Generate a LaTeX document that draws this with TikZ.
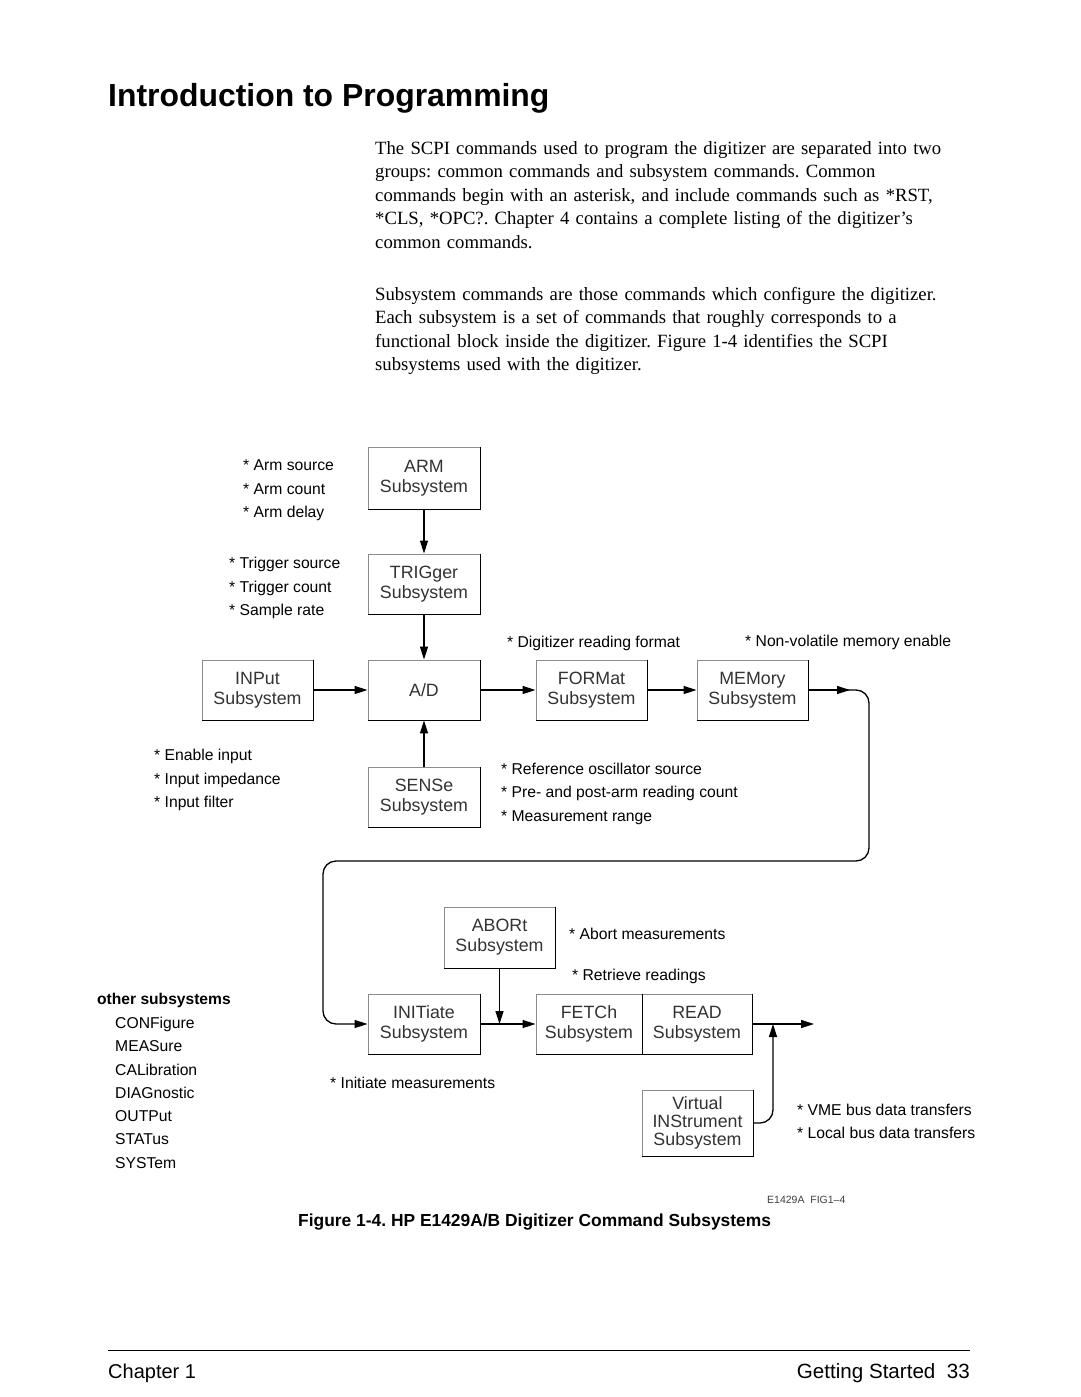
\documentclass[tikz,border=0pt]{standalone}
\usepackage{fontspec}
\setmainfont{Liberation Serif}
\setsansfont{Liberation Sans}
\newfontfamily\arial{Liberation Sans}
\usetikzlibrary{arrows.meta}
\begin{document}
\begin{tikzpicture}[x=1pt,y=-1pt,
  sbox/.style={draw=black!45, line width=0.9pt, minimum width=112pt, minimum height=61pt, inner sep=0pt, align=center, font=\arial\fontsize{17.8}{20}\selectfont, text=black!80},
  conn/.style={line width=1.3pt},
  arr/.style={conn, -{Triangle[length=13pt,width=8pt]}},
  lbl/.style={anchor=base west, inner sep=0pt, font=\arial\fontsize{15.7}{18}\selectfont},
  body/.style={anchor=base west, inner sep=0pt, text width=640pt, align=left, font=\frenchspacing\fontsize{18.7}{23.5}\selectfont},
]
\useasboundingbox[fill=white] (0,0) rectangle (1080,1397);

% title and body text
\node[anchor=base west, inner sep=0pt, font=\arial\bfseries\fontsize{31.9}{36}\selectfont] (title) at (108,106) {Introduction to Programming};
\node[body] (para1) at (375,154) {The SCPI commands used to program the digitizer are separated into two\\
groups: common commands and subsystem commands. Common\\
commands begin with an asterisk, and include commands such as *RST,\\
\relax *CLS, *OPC?. Chapter 4 contains a complete listing of the digitizer’s\\
common commands.};
\node[body] (para2) at (375,300) {Subsystem commands are those commands which configure the digitizer.\\
Each subsystem is a set of commands that roughly corresponds to a\\
functional block inside the digitizer. Figure 1-4 identifies the SCPI\\
subsystems used with the digitizer.};

% boxes
\node[sbox, minimum height=62pt] (arm) at (424,478) {ARM\\Subsystem};
\node[sbox, minimum height=60pt] (trig) at (424,584) {TRIGger\\Subsystem};
\node[sbox, minimum width=111pt, minimum height=60pt] (inp) at (257.5,690) {INPut\\Subsystem};
\node[sbox, minimum height=60pt] (ad) at (424,690) {A/D};
\node[sbox, minimum width=111pt, minimum height=60pt] (fmt) at (591.5,690) {FORMat\\Subsystem};
\node[sbox, minimum width=111pt, minimum height=60pt] (mem) at (752.5,690) {MEMory\\Subsystem};
\node[sbox, minimum height=60pt] (sense) at (424,797) {SENSe\\Subsystem};
\node[sbox, minimum width=111pt, minimum height=61pt] (abort) at (499.5,937.5) {ABORt\\Subsystem};
\node[sbox, minimum height=60pt] (init) at (424,1024) {INITiate\\Subsystem};
\node[sbox, minimum width=106pt, minimum height=60pt] (fetch) at (589,1024) {FETCh\\Subsystem};
\node[sbox, minimum width=110pt, minimum height=60pt] (read) at (697,1024) {READ\\Subsystem};
\node[sbox, minimum width=111pt, minimum height=66pt, font=\arial\fontsize{17.8}{18}\selectfont] (virt) at (697.5,1123) {Virtual\\INStrument\\Subsystem};

% shadow edges of boxes
\foreach \n in {arm,trig,inp,ad,fmt,mem,sense,abort,init,fetch,read,virt}
  \draw[line width=1.5pt] (\n.north east) -- (\n.south east) -- (\n.south west);

% connectors
\draw[arr] (arm.south) -- (trig.north);
\draw[arr] (trig.south) -- (ad.north);
\draw[arr] (sense.north) -- (ad.south);
\draw[arr] (inp.east) -- (ad.west);
\draw[arr] (ad.east) -- (fmt.west);
\draw[arr] (fmt.east) -- (mem.west);
\coordinate (m1) at (869,690);
\coordinate (m2) at (869,861);
\coordinate (m3) at (323,861);
\coordinate (m4) at (323,1024);
\coordinate (mtip) at (850,690);
\draw[arr, rounded corners=13pt] (mem.east) -- (m1) -- (m2) -- (m3) -- (m4) -- (init.west);
\draw[arr] (mem.east) -- (mtip);
\draw[arr] (init.east) -- (fetch.west);
\coordinate (j1) at (abort.south |- init.east);
\draw[arr] (abort.south) -- (j1);
\coordinate (outend) at (814,1024);
\draw[arr] (read.east) -- (outend);
\coordinate (j2) at (773,1024);
\draw[arr, rounded corners=13pt] (virt.east) -| (j2);

% labels
\node[lbl] (l1) at (243,470) {* Arm source};
\node[lbl] (l2) at (243,494) {* Arm count};
\node[lbl] (l3) at (243,517) {* Arm delay};
\node[lbl] (l4) at (229,568) {* Trigger source};
\node[lbl] (l5) at (229,592) {* Trigger count};
\node[lbl] (l6) at (229,615) {* Sample rate};
\node[lbl] (l7) at (507,647) {* Digitizer reading format};
\node[lbl] (l8) at (745,646) {* Non-volatile memory enable};
\node[lbl] (l9) at (154,760) {* Enable input};
\node[lbl] (l10) at (154,784) {* Input impedance};
\node[lbl] (l11) at (154,807) {* Input filter};
\node[lbl] (l12) at (501,774) {* Reference oscillator source};
\node[lbl] (l13) at (501,797) {* Pre- and post-arm reading count};
\node[lbl] (l14) at (501,821) {* Measurement range};
\node[lbl] (l15) at (569,939) {* Abort measurements};
\node[lbl] (l16) at (572,980) {* Retrieve readings};
\node[lbl] (l17) at (330,1088) {* Initiate measurements};
\node[lbl] (l18) at (797,1115) {* VME bus data transfers};
\node[lbl] (l19) at (797,1138) {* Local bus data transfers};

% other subsystems
\node[lbl, font=\arial\bfseries\fontsize{15.6}{18}\selectfont] (oth) at (97,1004) {other subsystems};
\node[lbl] (o1) at (115,1028) {CONFigure};
\node[lbl] (o2) at (115,1051) {MEASure};
\node[lbl] (o3) at (115,1075) {CALibration};
\node[lbl] (o4) at (115,1098) {DIAGnostic};
\node[lbl] (o5) at (115,1121) {OUTPut};
\node[lbl] (o6) at (115,1144) {STATus};
\node[lbl] (o7) at (115,1168) {SYSTem};

% figure id and caption
\node[anchor=base west, inner sep=0pt, font=\arial\fontsize{10.5}{12}\selectfont, text=black!75] (figid) at (767,1203) {E1429A\ \ FIG1–4};
\node[anchor=base west, inner sep=0pt, font=\frenchspacing\arial\bfseries\fontsize{17.4}{20}\selectfont] (cap) at (298,1226) {Figure 1-4. HP E1429A/B Digitizer Command Subsystems};

% footer
\coordinate (fl) at (108,1350);
\coordinate (fr) at (970,1350);
\draw[line width=0.8pt] (fl) -- (fr);
\node[anchor=base west, inner sep=0pt, font=\arial\fontsize{20}{24}\selectfont] (chap) at (108,1378) {Chapter 1};
\node[anchor=base east, inner sep=0pt, font=\arial\fontsize{20.6}{24}\selectfont] (gs) at (970,1378) {Getting Started\ \ 33};
\end{tikzpicture}
\end{document}
